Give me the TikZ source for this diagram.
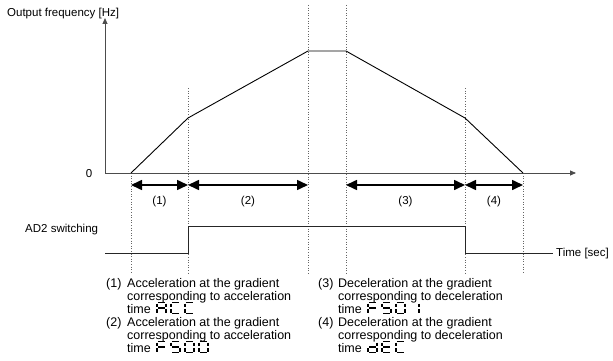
\documentclass[tikz,border=0pt]{standalone}
\usepackage{fontspec}
\setmainfont{Liberation Sans}
\usetikzlibrary{arrows.meta,calc}
\def\segpa{(1,0)--(8,0)}
\def\segpb{(9,1)--(9,4.7)}
\def\segpc{(9,6.3)--(9,10)}
\def\segpd{(1,11)--(8,11)}
\def\segpe{(0,6.3)--(0,10)}
\def\segpf{(0,1)--(0,4.7)}
\def\segpg{(1,5.5)--(8,5.5)}
\newcommand{\sevseg}[2]{%
  \begin{scope}[xshift=#1]\foreach \s in {#2}{\draw[segline] \csname segp\s\endcsname;}\end{scope}}
\begin{document}
\begin{tikzpicture}[x=1pt,y=-1pt,
  lbl/.style={font=\fontsize{11.5}{13}\selectfont, inner sep=0pt},
  txt/.style={font=\fontsize{12.5}{13}\selectfont, inner sep=0pt, anchor=base west},
  axis/.style={black!70, line width=0.8pt, -{Triangle[length=6pt,width=5pt]}},
  curve/.style={black, line width=0.9pt},
  guide/.style={black!60, line width=0.6pt, dotted},
  span/.style={black, line width=1.6pt, {Triangle[length=11pt,width=10pt]}-{Triangle[length=11pt,width=10pt]}},
  sig/.style={black!85, line width=1pt},
  segline/.style={black, line width=1.8pt, line cap=butt}]
\useasboundingbox (0,0) rectangle (613,361);
% key points
\coordinate (O) at (105,173);
\coordinate (ytop) at (105,18);
\coordinate (xend) at (576,173);
\coordinate (p0) at (131,173);
\coordinate (p1) at (188,118);
\coordinate (p2) at (308,51);
\coordinate (p3) at (346,51);
\coordinate (p4) at (465,118);
\coordinate (p5) at (523,173);
% guide lines
\coordinate (g0t) at (131,173); \coordinate (g0b) at (131,274);
\coordinate (g1t) at (188,88);  \coordinate (g1b) at (188,274);
\coordinate (g2t) at (308,5);   \coordinate (g2b) at (308,274);
\coordinate (g3t) at (346,5);   \coordinate (g3b) at (346,274);
\coordinate (g4t) at (465,88);  \coordinate (g4b) at (465,274);
\coordinate (g5t) at (523,173); \coordinate (g5b) at (523,274);
\foreach \i in {0,...,5} {\draw[guide] (g\i t) -- (g\i b);}
% axes
\draw[axis] (O) -- (ytop);
\draw[axis] (O) -- (xend);
\node[lbl, anchor=west] (yl) at (7,14) {Output frequency [Hz]};
\node[lbl] (zero) at (89,174) {0};
% frequency curve
\draw[curve] (p0) -- (p1) -- (p2) -- (p3) -- (p4) -- (p5);
% spans
\coordinate (a0) at (131,185); \coordinate (a1) at (188,185);
\coordinate (a2) at (308,185); \coordinate (a3) at (346,185);
\coordinate (a4) at (465,185); \coordinate (a5) at (523,185);
\draw[span] (a0) -- (a1);
\draw[span] (a1) -- (a2);
\draw[span] (a3) -- (a4);
\draw[span] (a4) -- (a5);
\node[lbl] (s1) at (159.5,202) {(1)};
\node[lbl] (s2) at (248,202) {(2)};
\node[lbl] (s3) at (405.5,202) {(3)};
\node[lbl] (s4) at (494,202) {(4)};
% AD2 switching signal
\node[lbl, anchor=west] (ad2) at (25,230) {AD2 switching};
\coordinate (q0) at (105,253);
\coordinate (q1) at (188,253);
\coordinate (q2) at (188,226);
\coordinate (q3) at (465,226);
\coordinate (q4) at (465,253);
\coordinate (q5) at (553,253);
\draw[sig] (q0) -- (q1) -- (q2) -- (q3) -- (q4) -- (q5);
\node[lbl, anchor=west] (tsec) at (556,254) {Time [sec]};
% explanations
\node[txt] (n1) at (106,287) {(1)};
\node[txt] (l11) at (127,287) {Acceleration at the gradient};
\node[txt] (l12) at (127,300) {corresponding to acceleration};
\node[txt] (l13) at (127,313) {time};
\node[txt] (n2) at (106,326) {(2)};
\node[txt] (l21) at (127,326) {Acceleration at the gradient};
\node[txt] (l22) at (127,339) {corresponding to acceleration};
\node[txt] (l23) at (127,352) {time};
\node[txt] (n3) at (318,287) {(3)};
\node[txt] (l31) at (338,287) {Deceleration at the gradient};
\node[txt] (l32) at (338,300) {corresponding to deceleration};
\node[txt] (l33) at (338,313) {time};
\node[txt] (n4) at (318,326) {(4)};
\node[txt] (l41) at (338,326) {Deceleration at the gradient};
\node[txt] (l42) at (338,339) {corresponding to deceleration};
\node[txt] (l43) at (338,352) {time};
% seven-segment codes
\begin{scope}[shift={($(l13.base east)+(6,-10.5)$)}]
  \sevseg{0}{a,b,c,e,f,g}\sevseg{14}{a,d,e,f}\sevseg{28}{a,d,e,f}
\end{scope}
\begin{scope}[shift={($(l23.base east)+(6,-10.5)$)}]
  \sevseg{0}{a,e,f,g}\sevseg{14}{a,c,d,f,g}\sevseg{28}{a,b,c,d,e,f}\sevseg{42}{a,b,c,d,e,f}
\end{scope}
\begin{scope}[shift={($(l33.base east)+(6,-10.5)$)}]
  \sevseg{0}{a,e,f,g}\sevseg{14}{a,c,d,f,g}\sevseg{28}{a,b,c,d,e,f}\sevseg{42}{b,c}
\end{scope}
\begin{scope}[shift={($(l43.base east)+(6,-10.5)$)}]
  \sevseg{0}{b,c,d,e,g}\sevseg{14}{a,d,e,f,g}\sevseg{28}{a,d,e,f}
\end{scope}
\end{tikzpicture}
\end{document}
